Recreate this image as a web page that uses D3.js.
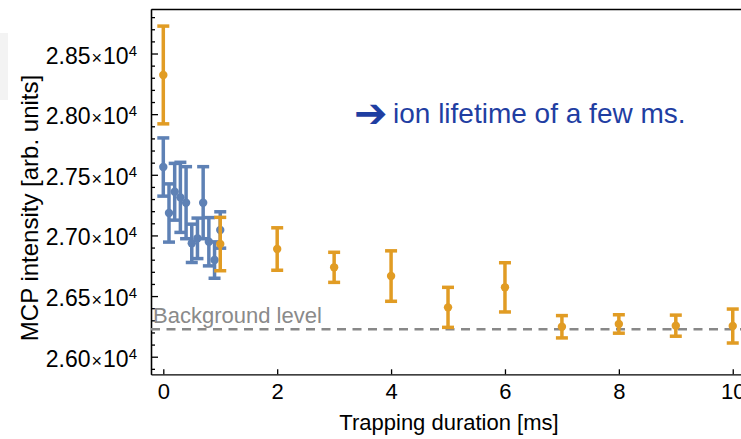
<!DOCTYPE html>
<html>
<head>
<meta charset="utf-8">
<script src="https://cdn.jsdelivr.net/npm/d3@7"></script>
<style>
  body { margin: 0; background: #fff; }
  svg { font-family: "Liberation Sans", Arial, sans-serif; }
</style>
</head>
<body>
<div id="chart"></div>
<script>
var width = 741, height = 439;

// long scan, 1 ms steps (orange)
var longTimes = [0, 1, 2, 3, 4, 5, 6, 7, 8, 9, 10];
var longMeans = [28323, 26929, 26888, 26737, 26665, 26407, 26572, 26247, 26270, 26256, 26253];
var longErrs  = [403, 220, 175, 124, 208, 165, 203, 92, 76, 87, 140];

// short scan, 0.1 ms steps (blue)
var shortTimes = [0, 0.1, 0.2, 0.3, 0.4, 0.5, 0.6, 0.7, 0.8, 0.9, 1.0];
var shortMeans = [27564, 27185, 27360, 27314, 27270, 26935, 26976, 27270, 26948, 26797, 27045];
var shortErrs  = [240, 240, 234, 289, 297, 158, 167, 297, 199, 150, 150];

var backgroundLevel = 26226;

var xTicks = [0, 2, 4, 6, 8, 10];
var yTicks = [26000, 26500, 27000, 27500, 28000, 28500];
var yMinor = d3.range(25900, 28900, 100).filter(function(v) { return v % 500 != 0; });

var orange = "#e19c24";
var blue = "#5e81b5";

var svg = d3.select("#chart")
  .append("svg")
    .attr("width", width)
    .attr("height", height);

var x = d3.scaleLinear().domain([-0.216, 10.145]).range([151, 741]);
var y = d3.scaleLinear().domain([25855, 28867]).range([374.3, 9]);

// faint leftover box at the left edge of the slide
svg.append("rect")
  .attr("x", 0).attr("y", 33).attr("width", 8).attr("height", 67)
  .attr("fill", "#f3f3f3");

// frame: bottom axis
var xAxis = svg.append("g")
  .attr("transform", "translate(0," + y.range()[0] + ")")
  .call(d3.axisBottom(x).tickValues(xTicks).tickSize(-5).tickSizeOuter(0).tickPadding(9)
    .tickFormat(d3.format("d")));
xAxis.selectAll("text").attr("font-size", 22).attr("fill", "#000").attr("font-family", "Liberation Sans, Arial, sans-serif");

// top frame line
svg.append("g")
  .attr("transform", "translate(0," + y.range()[1] + ")")
  .call(d3.axisTop(x).tickValues([]).tickSizeOuter(0));

// left axis: minor ticks then major ticks with labels
svg.append("g")
  .attr("transform", "translate(" + x.range()[0] + ",0)")
  .call(d3.axisLeft(y).tickValues(yMinor).tickSize(-4).tickSizeOuter(0).tickFormat(""));

var yAxis = svg.append("g")
  .attr("transform", "translate(" + x.range()[0] + ",0)")
  .call(d3.axisLeft(y).tickValues(yTicks).tickSize(-7).tickSizeOuter(0).tickFormat(""));

yAxis.selectAll(".tick").each(function(d) {
  var t = d3.select(this).append("text")
    .attr("x", -14)
    .attr("y", 9.5)
    .attr("text-anchor", "end")
    .attr("fill", "#000")
    .attr("font-family", "Liberation Sans, Arial, sans-serif")
    .attr("font-size", 23);
  t.append("tspan").text((d / 1e4).toFixed(2));
  t.append("tspan").attr("font-size", 18).attr("dx", 1).text("\u00d7");
  t.append("tspan").attr("dx", 1).text("10");
  t.append("tspan").attr("font-size", 15).attr("dy", -8).text("4");
});

svg.selectAll(".domain, .tick line").attr("stroke", "#000").attr("stroke-width", 1.3);

// background level
svg.append("line")
  .attr("x1", x.range()[0]).attr("x2", x.range()[1])
  .attr("y1", y(backgroundLevel)).attr("y2", y(backgroundLevel))
  .attr("stroke", "#888").attr("stroke-width", 2.6)
  .attr("stroke-dasharray", "9,6.5");

svg.append("text")
  .attr("x", 153).attr("y", y(backgroundLevel) - 6)
  .attr("font-size", 22).attr("fill", "#8a8a8a")
  .text("Background level");

// error bar series
function drawSeries(times, means, errs, color) {
  var rows = times.map(function(t, i) { return { t: t, m: means[i], e: errs[i] }; });
  var g = svg.append("g");
  var bars = g.selectAll("g").data(rows).enter().append("g")
    .attr("stroke", color).attr("fill", color);
  bars.append("line")
    .attr("x1", function(d) { return x(d.t); }).attr("x2", function(d) { return x(d.t); })
    .attr("y1", function(d) { return y(d.m - d.e); }).attr("y2", function(d) { return y(d.m + d.e); })
    .attr("stroke-width", 3.5);
  bars.append("line")
    .attr("x1", function(d) { return x(d.t) - 6; }).attr("x2", function(d) { return x(d.t) + 6; })
    .attr("y1", function(d) { return y(d.m + d.e); }).attr("y2", function(d) { return y(d.m + d.e); })
    .attr("stroke-width", 3.5);
  bars.append("line")
    .attr("x1", function(d) { return x(d.t) - 6; }).attr("x2", function(d) { return x(d.t) + 6; })
    .attr("y1", function(d) { return y(d.m - d.e); }).attr("y2", function(d) { return y(d.m - d.e); })
    .attr("stroke-width", 3.5);
  bars.append("circle")
    .attr("cx", function(d) { return x(d.t); })
    .attr("cy", function(d) { return y(d.m); })
    .attr("r", 4.2)
    .attr("stroke", "none");
}

drawSeries(shortTimes, shortMeans, shortErrs, blue);
drawSeries(longTimes, longMeans, longErrs, orange);

// axis titles
svg.append("text")
  .attr("x", 449).attr("y", 429.5)
  .attr("text-anchor", "middle").attr("font-size", 22)
  .text("Trapping duration [ms]");

svg.append("text")
  .attr("transform", "translate(37.5,208) rotate(-90)")
  .attr("text-anchor", "middle").attr("font-size", 24)
  .text("MCP intensity [arb. units]");

// annotation
svg.append("text")
  .attr("x", 354).attr("y", 127)
  .attr("font-family", "DejaVu Sans").attr("font-size", 40).attr("fill", "#1f3ea2")
  .text("\u2794");
svg.append("text")
  .attr("x", 393).attr("y", 123)
  .attr("font-size", 28).attr("fill", "#1f3ea2")
  .text("ion lifetime of a few ms.");
</script>
</body>
</html>
